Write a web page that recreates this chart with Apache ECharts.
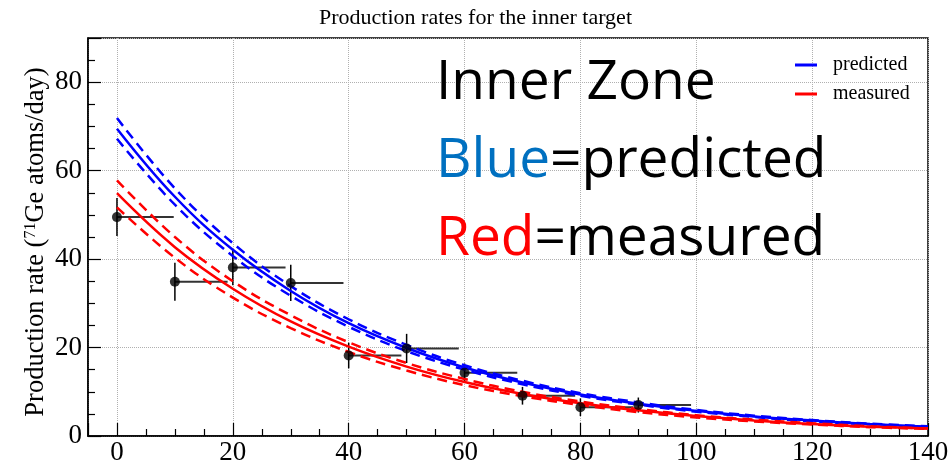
<!DOCTYPE html>
<html>
<head>
<meta charset="utf-8">
<script src="https://cdn.jsdelivr.net/npm/echarts@6/dist/echarts.min.js"></script>
<style>
  html, body { margin: 0; padding: 0; background: #fff; }
  #chart { width: 951px; height: 462px; }
</style>
</head>
<body>
<div id="chart"></div>
<script>
// measured points (start of each run), right edge of the run and the error
const pointX = [0, 10, 20, 30, 40, 50, 60, 70, 80, 90]
const pointEnd = [9.8, 19.1, 29.1, 39.1, 49.1, 59, 69.1, 79.1, 89.1, 99.1]
const pointY = [49.5, 34.9, 38.1, 34.6, 18.2, 19.8, 14.3, 9.1, 6.5, 7.0]
const pointErr = [4.3, 4.3, 4.0, 4.1, 2.9, 3.3, 2.1, 2.0, 2.0, 1.7]

// curves every 10 days
const curveX = [0, 10, 20, 30, 40, 50, 60, 70, 80, 90, 100, 110, 120, 130, 140]
const predicted = [69.5, 54.1, 42.1, 32.8, 25.5, 19.9, 15.5, 12.1, 9.4, 7.3, 5.7, 4.4, 3.5, 2.7, 2.1]
const predictedHigh = [71.9, 56.0, 43.6, 33.9, 26.4, 20.6, 16.0, 12.5, 9.7, 7.6, 5.9, 4.6, 3.6, 2.8, 2.2]
const predictedLow = [67.2, 52.3, 40.7, 31.7, 24.7, 19.2, 15.0, 11.7, 9.1, 7.1, 5.5, 4.3, 3.3, 2.6, 2.0]
const measured = [54.9, 42.7, 33.3, 25.9, 20.2, 15.7, 12.2, 9.5, 7.4, 5.8, 4.5, 3.5, 2.7, 2.1, 1.7]
const measuredHigh = [57.8, 45.0, 35.0, 27.3, 21.2, 16.5, 12.9, 10.0, 7.8, 6.1, 4.7, 3.7, 2.9, 2.2, 1.7]
const measuredLow = [51.7, 40.3, 31.3, 24.4, 19.0, 14.8, 11.5, 9.0, 7.0, 5.4, 4.2, 3.3, 2.6, 2.0, 1.6]

const serif = 'Liberation Serif'
const blue = '#0000ff'
const red = '#ff0000'

const chart = echarts.init(document.getElementById('chart'))

function curve(name, values, color, dashed) {
  return {
    name: name,
    type: 'line',
    data: curveX.map((x, i) => [x, values[i]]),
    smooth: 0.4,
    showSymbol: false,
    symbol: 'none',
    z: 3,
    lineStyle: { color: color, width: 2.5, type: dashed ? [10, 6] : 'solid' },
    itemStyle: { color: color },
    emphasis: { disabled: true }
  }
}

chart.setOption({
  animation: false,
  backgroundColor: '#fff',
  title: {
    text: 'Production rates for the inner target',
    left: 'center',
    top: 2,
    textStyle: { fontFamily: serif, fontWeight: 'normal', fontSize: 22, color: '#000' }
  },
  legend: {
    data: ['predicted', 'measured'],
    orient: 'vertical',
    left: 795,
    top: 55,
    padding: 0,
    itemGap: 9,
    itemWidth: 22,
    itemHeight: 3,
    icon: 'rect',
    textStyle: { fontFamily: serif, fontSize: 20, color: '#000', padding: [0, 0, 0, 11] }
  },
  grid: {
    left: 88,
    right: 23,
    top: 38,
    bottom: 26,
    outerBoundsMode: 'none',
    show: true,
    borderColor: '#000',
    borderWidth: 1.5
  },
  xAxis: {
    type: 'value',
    min: -5,
    max: 140,
    splitNumber: 7,
    axisLine: { show: true, onZero: false, lineStyle: { color: '#000', width: 1.5 } },
    axisTick: { inside: true, length: 13, lineStyle: { color: '#000', width: 1.2 } },
    minorTick: { show: true, splitNumber: 4, length: 7, lineStyle: { color: '#000', width: 1.2 } },
    axisLabel: { showMinLabel: false, alignMaxLabel: 'center', fontFamily: serif, fontSize: 27, color: '#000', margin: 3 },
    splitLine: { show: true, lineStyle: { color: '#b0b0b0', type: 'dotted', width: 1 } }
  },
  yAxis: {
    type: 'value',
    min: 0,
    max: 90,
    interval: 20,
    name: 'Production rate ({sup|71}Ge atoms/day)',
    nameLocation: 'middle',
    nameGap: 38,
    nameMoveOverlap: false,
    nameTextStyle: {
      fontFamily: serif,
      fontSize: 26.5,
      color: '#000',
      padding: [0, 10, 0, 0],
      rich: { sup: { fontFamily: serif, fontSize: 16, color: '#000', verticalAlign: 'top' } }
    },
    axisLine: { show: true, onZero: false, lineStyle: { color: '#000', width: 1.5 } },
    axisTick: { inside: true, length: 13, lineStyle: { color: '#000', width: 1.2 } },
    minorTick: { show: true, splitNumber: 4, length: 7, lineStyle: { color: '#000', width: 1.2 } },
    axisLabel: { showMaxLabel: false, verticalAlignMinLabel: 'middle', fontFamily: serif, fontSize: 27, color: '#000', margin: 6 },
    splitLine: { show: true, lineStyle: { color: '#b0b0b0', type: 'dotted', width: 1 } }
  },
  graphic: [
    {
      type: 'text',
      left: 436,
      top: 56,
      z: 100,
      style: { text: 'Inner Zone', fontFamily: 'Open Sans', fontSize: 55, fill: '#000' }
    },
    {
      type: 'text',
      left: 436,
      top: 134,
      z: 100,
      style: {
        text: '{b|Blue}=predicted',
        fontFamily: 'Open Sans',
        fontSize: 55,
        fill: '#000',
        rich: { b: { fontFamily: 'Open Sans', fontSize: 55, fill: '#0070c0', color: '#0070c0' } }
      }
    },
    {
      type: 'text',
      left: 436,
      top: 212,
      z: 100,
      style: {
        text: '{r|Red}=measured',
        fontFamily: 'Open Sans',
        fontSize: 55,
        fill: '#000',
        rich: { r: { fontFamily: 'Open Sans', fontSize: 55, fill: '#ff0000', color: '#ff0000' } }
      }
    }
  ],
  series: [
    {
      type: 'custom',
      z: 2,
      silent: true,
      data: pointX.map((x, i) => [x, pointY[i], pointEnd[i], pointErr[i]]),
      renderItem: function (params, api) {
        const p = api.coord([api.value(0), api.value(1)])
        const end = api.coord([api.value(2), api.value(1)])
        const hi = api.coord([api.value(0), api.value(1) + api.value(3)])
        const lo = api.coord([api.value(0), api.value(1) - api.value(3)])
        return {
          type: 'group',
          children: [
            { type: 'line', shape: { x1: p[0], y1: p[1], x2: end[0], y2: end[1] }, style: { stroke: '#333', lineWidth: 2 } },
            { type: 'line', shape: { x1: hi[0], y1: hi[1], x2: lo[0], y2: lo[1] }, style: { stroke: '#000', lineWidth: 1.5 } }
          ]
        }
      }
    },
    curve('predicted', predictedHigh, blue, true),
    curve('predicted', predicted, blue, false),
    curve('predicted', predictedLow, blue, true),
    curve('measured', measuredHigh, red, true),
    curve('measured', measured, red, false),
    curve('measured', measuredLow, red, true),
    {
      type: 'scatter',
      z: 4,
      symbol: 'circle',
      symbolSize: 10,
      itemStyle: { color: '#000' },
      data: pointX.map((x, i) => [x, pointY[i]])
    }
  ]
})
</script>
</body>
</html>
